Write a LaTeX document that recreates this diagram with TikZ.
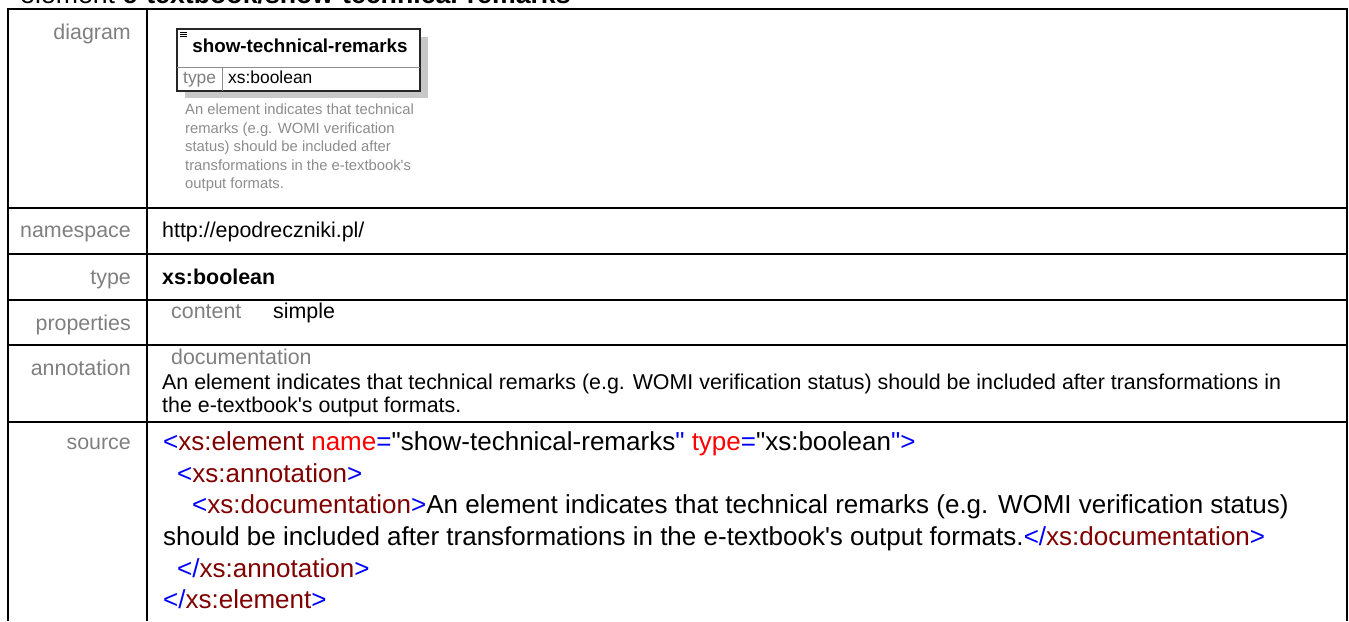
\documentclass[tikz,border=0pt]{standalone}
\usepackage{fontspec}
\setmainfont{Liberation Sans}
\newfontfamily\plainsans{Liberation Sans}
\definecolor{lblgray}{HTML}{7F7F7F}
\definecolor{descgray}{HTML}{8C8C8C}
\definecolor{tagblue}{HTML}{0000FF}
\definecolor{tagred}{HTML}{800000}
\definecolor{attrred}{HTML}{FF0000}
\definecolor{shadowgray}{HTML}{C8C8C8}
\newcommand\xb[1]{\textcolor{tagblue}{#1}}
\newcommand\xr[1]{\textcolor{tagred}{#1}}
\newcommand\xa[1]{\textcolor{attrred}{#1}}
\tikzset{
  grid/.style={line width=2.5pt, draw=black},
  lbl/.style={anchor=mid east, inner sep=0pt, text=lblgray, font=\plainsans\fontsize{21.4}{25}\selectfont},
  val/.style={anchor=mid west, inner sep=0pt, text=black, font=\plainsans\fontsize{21.4}{25}\selectfont},
  sub/.style={anchor=mid west, inner sep=0pt, text=lblgray, font=\plainsans\fontsize{21.4}{25}\selectfont},
  src/.style={anchor=mid west, inner sep=0pt, text=black, font=\plainsans\fontsize{26}{31}\selectfont},
}
\begin{document}
\begin{tikzpicture}[x=1pt,y=-1pt]
\useasboundingbox (0,0) rectangle (1349,621);
% title (cut by the top edge)
\node[anchor=base west, inner sep=0pt, font=\plainsans\fontsize{26.7}{30}\selectfont] (title) at (20,4) {element \textbf{e-textbook/show-technical-remarks}};
% table grid
\draw[grid] (8,621) -- (8,9) -- (1347,9) -- (1347,621);
\draw[grid] (147,9) -- (147,621);
\foreach \yy in {208,254,300,345,422} \draw[grid] (8,\yy) -- (1347,\yy);
% labels
\node[lbl] (ldiag) at (131,37) {diagram};
\node[lbl] (lns) at (131,235) {namespace};
\node[lbl] (ltype) at (131,282) {type};
\node[lbl] (lprop) at (131,328) {properties};
\node[lbl] (lann) at (131,373) {annotation};
\node[lbl] (lsrc) at (131,447) {source};
% diagram
\fill[shadowgray] (185,37) rectangle (428,98);
\draw[fill=white, draw=black!85, line width=1.4pt] (177,29) rectangle (420,91);
\draw[draw=black!45, line width=1pt] (177,67) -- (420,67);
\draw[draw=black!45, line width=1pt] (222,67) -- (222,91);
\foreach \yy in {32,34.2,36.4} \draw[line width=0.9pt] (180,\yy) -- (187,\yy);
\node[inner sep=0pt, anchor=mid, font=\plainsans\fontsize{18.8}{22}\selectfont\bfseries] (ename) at (300,50) {show-technical-remarks};
\node[anchor=mid west, inner sep=0pt, text=lblgray, font=\plainsans\fontsize{17.4}{21}\selectfont] (etype) at (183,81) {type};
\node[anchor=mid west, inner sep=0pt, font=\plainsans\fontsize{17.4}{21}\selectfont] (etypev) at (228,81) {xs:boolean};
\node[anchor=north west, inner sep=0pt, align=left, text=descgray, font=\plainsans\fontsize{14.8}{18.5}\selectfont] (edesc) at (185,104)
 {An element indicates that technical\\remarks (e.g. WOMI verification\\status) should be included after\\transformations in the e-textbook's\\output formats.};
% values
\node[val] (vns) at (162,235) {http://epodreczniki.pl/};
\node[val, font=\plainsans\fontsize{21.4}{25}\selectfont\bfseries] (vtype) at (162,282) {xs:boolean};
\node[sub] (vcont) at (171,316) {content};
\node[val] (vsimple) at (273,316) {simple};
\node[sub] (vdoc) at (171,362) {documentation};
\node[val] (vann1) at (162,387) {An element indicates that technical remarks (e.g. WOMI verification status) should be included after transformations in};
\node[val] (vann2) at (162,410) {the e-textbook's output formats.};
% source
\node[src] (s1) at (163,448) {\xb{<}\xr{xs:element} \xa{name}\xb{=}"show-technical-remarks\xb{"} \xa{type}\xb{=}"xs:boolean\xb{">}};
\node[src] (s2) at (177,480) {\xb{<}\xr{xs:annotation}\xb{>}};
\node[src] (s3) at (192,511) {\xb{<}\xr{xs:documentation}\xb{>}An element indicates that technical remarks (e.g. WOMI verification status)};
\node[src] (s4) at (163,543) {should be included after transformations in the e-textbook's output formats.\xb{</}\xr{xs:documentation}\xb{>}};
\node[src] (s5) at (177,575) {\xb{</}\xr{xs:annotation}\xb{>}};
\node[src] (s6) at (163,606) {\xb{</}\xr{xs:element}\xb{>}};
\end{tikzpicture}
\end{document}
